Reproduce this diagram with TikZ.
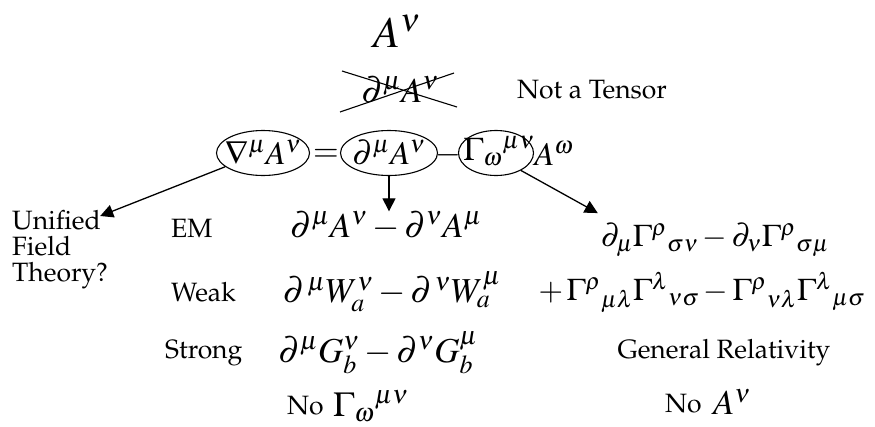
\documentclass[tikz,border=0pt]{standalone}
\usepackage[T1]{fontenc}
\usepackage{mathptmx}
\renewcommand{\rmdefault}{ppl}
\usetikzlibrary{shapes.geometric,arrows.meta}
\tikzset{
  lbl/.style={font=\fontsize{26.5}{26}\selectfont, inner sep=0pt},
  bigm/.style={font=\fontsize{44}{50}\selectfont, inner sep=0pt},
  mainm/.style={font=\fontsize{33}{36}\selectfont, inner sep=0pt},
  midm/.style={font=\fontsize{35}{40}\selectfont, inner sep=0pt},
  rm/.style={font=\fontsize{31.5}{36}\selectfont, inner sep=0pt},
  oval/.style={ellipse, draw, line width=1.1pt, inner sep=0pt},
  arr/.style={line width=1.3pt, -{Triangle[length=13pt,width=13pt]}}
}
\begin{document}
\begin{tikzpicture}[x=1pt,y=-1pt]
\useasboundingbox (0,0) rectangle (875,426);
% top
\node[bigm] (top) at (397,31) {$A^{\nu}$};
\node[midm] (nt) at (400,90) {$\partial^{\mu}A^{\nu}$};
\draw[line width=1.1pt] ([shift={(-58,-19)}]nt.center) -- ([shift={(57,17)}]nt.center);
\draw[line width=1.1pt] ([shift={(-60,22)}]nt.center) -- ([shift={(54,-17)}]nt.center);
\node[lbl] (ntt) at (592,90) {Not a Tensor};
% main equation
\node[oval, minimum width=93pt, minimum height=45pt] (e1) at (263,153) {};
\node[mainm] (t1) at (e1.center) {$\nabla^{\mu}A^{\nu}$};
\node[mainm] (eqs) at (326,155) {$=$};
\node[oval, minimum width=97pt, minimum height=45pt] (e2) at (389,153) {};
\node[mainm] (t2) at (e2.center) {$\partial^{\mu}A^{\nu}$};
\node[mainm] (mn) at (448,155) {$-$};
\node[oval, minimum width=75pt, minimum height=45pt] (e3) at (496,153) {};
\node[mainm] (t3) at ([xshift=3pt,yshift=2pt]e3.center) {$\Gamma_{\omega}{}^{\mu\nu}$};
\node[mainm] (aw) at (554,153) {$A^{\omega}$};
% left
\node[lbl, align=left, anchor=north west] (uft) at (12,210) {Unified\\Field\\Theory?};
\node[lbl, anchor=west] (em) at (171,228) {EM};
\node[midm] (emeq) at (386,226) {$\partial^{\mu}A^{\nu}-\partial^{\nu}A^{\mu}$};
\node[lbl, anchor=west] (wk) at (171,292) {Weak};
\node[midm] (wkeq) at (392,292) {$\partial^{\,\mu}W_a^{\nu}-\partial^{\,\nu}W_a^{\mu}$};
\node[lbl, anchor=west] (st) at (165,353) {Strong};
\node[midm] (steq) at (378,353) {$\partial^{\mu}G_b^{\nu}-\partial^{\nu}G_b^{\mu}$};
\node[lbl, anchor=west] (no1) at (287,406) {No};
\node[midm, anchor=west] (g1) at (333,406) {$\Gamma_{\omega}{}^{\mu\nu}$};
% right
\node[rm] (r1) at (715,240) {$\partial_{\mu}\Gamma^{\rho}{}_{\sigma\nu}-\partial_{\nu}\Gamma^{\rho}{}_{\sigma\mu}$};
\node[rm] (r2) at (702,292) {$+\,\Gamma^{\rho}{}_{\mu\lambda}\Gamma^{\lambda}{}_{\nu\sigma}-\Gamma^{\rho}{}_{\nu\lambda}\Gamma^{\lambda}{}_{\mu\sigma}$};
\node[lbl] (gr) at (724,353) {General Relativity};
\node[lbl, anchor=west] (no2) at (665,404) {No};
\node[midm, anchor=west] (a2) at (713,402) {$A^{\nu}$};
% arrows
\draw[arr] (e1.200) -- ([shift={(-8,6)}]uft.north east);
\draw[arr] (e2.south) -- (e2.south |- emeq.north);
\draw[arr] (e3.-35) -- ([shift={(-3,-10)}]r1.north west);
\end{tikzpicture}
\end{document}
